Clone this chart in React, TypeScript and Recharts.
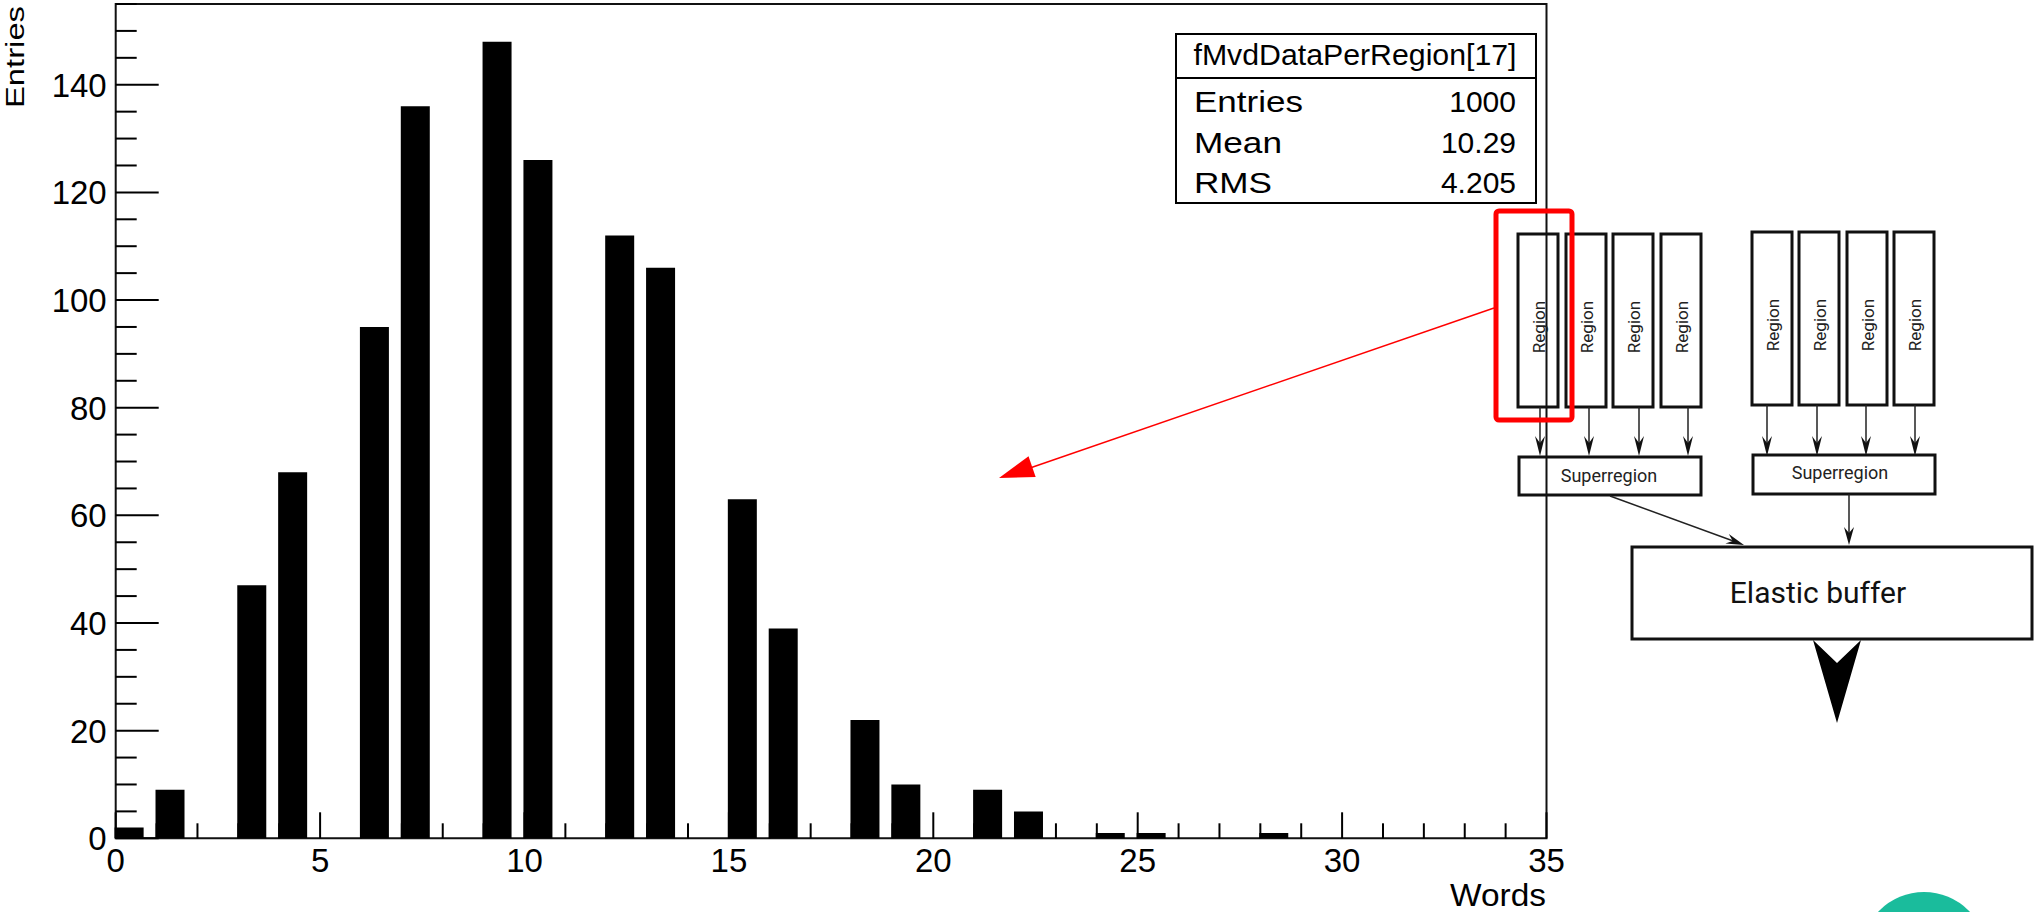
import { BarChart, Bar, XAxis, YAxis, ReferenceArea } from "recharts";

// histogram bins (low edge) and entries per bin
const bins = [0, 1, 2, 3, 4, 5, 6, 7, 8, 9, 10, 11, 12, 13, 14, 15, 16, 17, 18, 19, 20, 21, 22, 23, 24, 25, 26, 27, 28, 29, 30, 31, 32, 33, 34];
const counts = [2, 9, 0, 47, 68, 0, 95, 136, 0, 148, 126, 0, 112, 106, 0, 63, 39, 0, 22, 10, 0, 9, 5, 0, 1, 1, 0, 0, 1, 0, 0, 0, 0, 0, 0];

const xMajor = [0, 5, 10, 15, 20, 25, 30, 35];
const yMajor = [0, 20, 40, 60, 80, 100, 120, 140];
const xTicks = Array.from({ length: 36 }, (_, i) => i);
const yTicks = Array.from({ length: 32 }, (_, i) => i * 5);

const histTitle = "fMvdDataPerRegion[17]";
const statNames = ["Entries", "Mean", "RMS"];
const statValues = ["1000", "10.29", "4.205"];

const data = bins.map((b, i) => ({ bin: b, count: counts[i] }));

const ROOT_FONT = "'Liberation Sans', Arial, sans-serif";
const DIAG_FONT = "Roboto, 'Noto Sans', sans-serif";

function XTick(props: any) {
  const { x, y, payload } = props;
  const major = xMajor.includes(payload.value);
  return (
    <g>
      <line x1={x} x2={x} y1={y} y2={y - (major ? 26 : 15)} stroke="#000" strokeWidth={2} />
      {major && (
        <text x={x} y={y + 34} textAnchor="middle" fontFamily={ROOT_FONT} fontSize={33} fill="#000">
          {payload.value}
        </text>
      )}
    </g>
  );
}

function YTick(props: any) {
  const { x, y, payload } = props;
  const major = yMajor.includes(payload.value);
  return (
    <g>
      <line x1={x} x2={x + (major ? 43 : 21)} y1={y} y2={y} stroke="#000" strokeWidth={2} />
      {major && (
        <text x={x - 9} y={y + 12} textAnchor="end" fontFamily={ROOT_FONT} fontSize={33} fill="#000">
          {payload.value}
        </text>
      )}
    </g>
  );
}

// arrow head polygon pointing from (x1,y1) towards (x2,y2)
function headPoints(x1: number, y1: number, x2: number, y2: number, h: number, w: number, notch: number) {
  const len = Math.hypot(x2 - x1, y2 - y1);
  const dx = (x2 - x1) / len;
  const dy = (y2 - y1) / len;
  const px = -dy;
  const py = dx;
  const pts = [
    [x2, y2],
    [x2 - h * dx + w * px, y2 - h * dy + w * py],
    [x2 - (h - notch) * dx, y2 - (h - notch) * dy],
    [x2 - h * dx - w * px, y2 - h * dy - w * py],
  ];
  return pts.map((p) => p.join(",")).join(" ");
}

const regionLeft = [1518, 1566, 1613, 1661, 1752, 1799, 1847, 1894];
const regionTop = [234, 234, 234, 234, 232, 232, 232, 232];
const feedX = [1540, 1589, 1639, 1688, 1767, 1817, 1866, 1915];

function Diagram() {
  return (
    <svg width={2035} height={912} style={{ position: "absolute", left: 0, top: 0, pointerEvents: "none" }}>
      {/* stats box */}
      <rect x={1176} y={34} width={360} height={169} fill="#fff" stroke="#000" strokeWidth={2} />
      <line x1={1176} x2={1536} y1={78} y2={78} stroke="#000" strokeWidth={2} />
      <text x={1355} y={65} textAnchor="middle" fontFamily={ROOT_FONT} fontSize={30} textLength={323} lengthAdjust="spacingAndGlyphs">
        {histTitle}
      </text>
      {statNames.map((n, i) => (
        <text key={n} x={1194} y={112 + i * 40.5} fontFamily={ROOT_FONT} fontSize={30}
          textLength={[109, 88, 78][i]} lengthAdjust="spacingAndGlyphs">
          {n}
        </text>
      ))}
      {statValues.map((v, i) => (
        <text key={v} x={1516} y={112 + i * 40.5} textAnchor="end" fontFamily={ROOT_FONT} fontSize={30}>
          {v}
        </text>
      ))}

      {/* axis titles */}
      <text transform="translate(24,6) rotate(-90)" textAnchor="end" fontFamily={ROOT_FONT} fontSize={26}
        textLength={102} lengthAdjust="spacingAndGlyphs">
        Entries
      </text>
      <text x={1546} y={906} textAnchor="end" fontFamily={ROOT_FONT} fontSize={31}
        textLength={96} lengthAdjust="spacingAndGlyphs">
        Words
      </text>

      {/* regions */}
      {regionLeft.map((x, i) => (
        <g key={"r" + i}>
          <rect x={x} y={regionTop[i]} width={40} height={173} fill="none" stroke="#111" strokeWidth={3} />
          <text transform={`translate(${x + 21},${regionTop[i] + 93}) rotate(-90)`} textAnchor="middle"
            dominantBaseline="central" fontFamily={DIAG_FONT} fontSize={17} fill="#222">
            Region
          </text>
          <line x1={feedX[i]} x2={feedX[i]} y1={regionTop[i] + 173} y2={448} stroke="#222" strokeWidth={1.5} />
          <polygon points={headPoints(feedX[i], 400, feedX[i], 456, 20, 5, 7)} fill="#111" />
        </g>
      ))}

      {/* superregions */}
      <rect x={1519} y={457} width={182} height={38} fill="none" stroke="#111" strokeWidth={3} />
      <text x={1609} y={482} textAnchor="middle" fontFamily={DIAG_FONT} fontSize={18} fill="#222">Superregion</text>
      <rect x={1753} y={455} width={182} height={39} fill="none" stroke="#111" strokeWidth={3} />
      <text x={1840} y={479} textAnchor="middle" fontFamily={DIAG_FONT} fontSize={18} fill="#222">Superregion</text>

      <line x1={1610} y1={496} x2={1736} y2={542} stroke="#222" strokeWidth={1.5} />
      <polygon points={headPoints(1610, 496, 1744, 545, 18, 5, 6)} fill="#111" />
      <line x1={1849} y1={494} x2={1849} y2={537} stroke="#222" strokeWidth={1.5} />
      <polygon points={headPoints(1849, 494, 1849, 545, 18, 5, 6)} fill="#111" />

      {/* elastic buffer */}
      <rect x={1632} y={547} width={400} height={92} fill="none" stroke="#111" strokeWidth={3} />
      <text x={1818} y={603} textAnchor="middle" fontFamily={DIAG_FONT} fontSize={30} fill="#111">Elastic buffer</text>
      <polygon points="1837,723 1813,640 1837,663 1861,640" fill="#000" />

      {/* red highlight */}
      <rect x={1496} y={211} width={76} height={209} rx={3} fill="none" stroke="#ff0000" strokeWidth={5} />
      <line x1={1494} y1={308} x2={1030} y2={468} stroke="#ff0000" strokeWidth={1.5} />
      <polygon points={headPoints(1494, 308, 999, 478, 35, 11, 0)} fill="#ff0000" />

      <circle cx={1924} cy={955} r={63} fill="#1abc9c" />
    </svg>
  );
}

export default function App() {
  return (
    <div style={{ position: "absolute", left: 0, top: 0, width: 2035, height: 912, background: "#fff" }}>
      <BarChart width={1600} height={912} data={data} margin={{ top: 4, right: 53.5, bottom: 13.7, left: 15.7 }}
        barCategoryGap="15%">
        <XAxis xAxisId="scale" dataKey="bin" type="number" domain={[0, 35]} allowDataOverflow ticks={xTicks} interval={0}
          tick={<XTick />} tickSize={0} tickMargin={0} tickLine={false} axisLine={false} height={60} />
        <XAxis xAxisId="bins" dataKey="bin" type="category" hide height={0} padding={{ left: -7.2, right: 7.2 }} />
        <YAxis type="number" domain={[0, 155]} allowDataOverflow ticks={yTicks} interval={0}
          tick={<YTick />} tickSize={0} tickMargin={0} tickLine={false} axisLine={false} width={100} />
        <Bar xAxisId="bins" dataKey="count" fill="#000" isAnimationActive={false} />
        <ReferenceArea xAxisId="scale" x1={0} x2={35} y1={0} y2={155} fill="none" stroke="#111" strokeWidth={2}
          ifOverflow="visible" />
      </BarChart>
      <Diagram />
    </div>
  );
}
